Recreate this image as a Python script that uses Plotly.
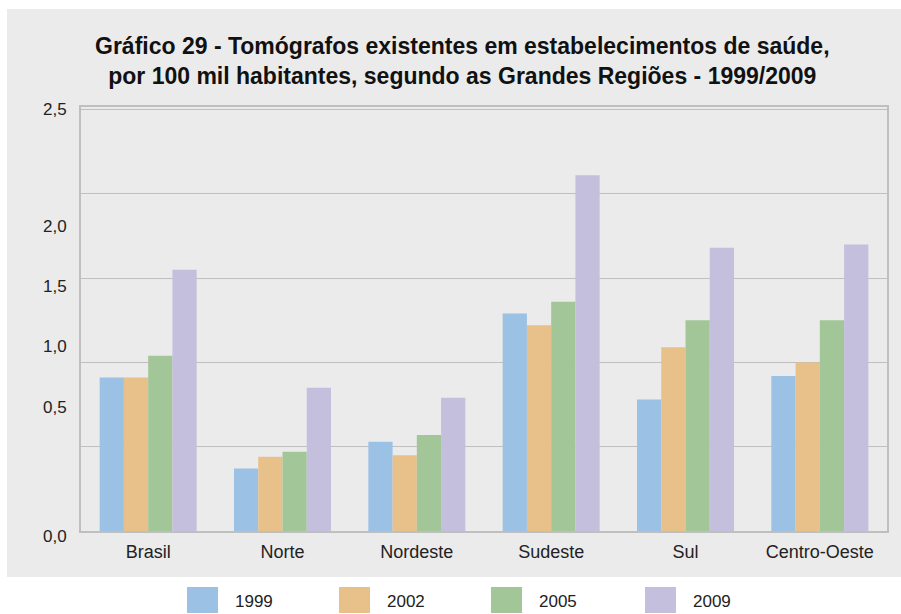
import plotly.graph_objects as go

# Tomógrafos por 100 mil habitantes, por Grande Região
regioes = ["Brasil", "Norte", "Nordeste", "Sudeste", "Sul", "Centro-Oeste"]
anos = ["1999", "2002", "2005", "2009"]
v1999 = [0.91, 0.37, 0.53, 1.29, 0.78, 0.92]
v2002 = [0.91, 0.44, 0.45, 1.22, 1.09, 1.00]
v2005 = [1.04, 0.47, 0.57, 1.36, 1.25, 1.25]
v2009 = [1.55, 0.85, 0.79, 2.11, 1.68, 1.70]
valores = [v1999, v2002, v2005, v2009]
cores = ["#9BC1E5", "#E8C08A", "#A2C697", "#C4BFDC"]

# y-axis label texts and where they sit along the axis
rotulos_y = ["0,0", "0,5", "1,0", "1,5", "2,0", "2,5"]
pos_rotulos_y = [-0.034, 0.731, 1.095, 1.452, 1.808, 2.50]

titulo = ("Gráfico 29 - Tomógrafos existentes em estabelecimentos de saúde,<br>"
          "por 100 mil habitantes, segundo as Grandes Regiões - 1999/2009")

W, H = 901, 614
L, R, T, B = 81, 14, 107, 83
PW, PH = W - L - R, H - T - B
Y_MAX = 2.515


def px_x(x):
    return (x - L) / PW


def px_y(y):
    return (H - B - y) / PH


FONT = "Liberation Sans, Arial, sans-serif"

fig = go.Figure()
for ano, vals, cor in zip(anos, valores, cores):
    fig.add_trace(go.Bar(x=regioes, y=vals, name=ano, marker=dict(color=cor, line=dict(width=0)),
                         showlegend=False))

shapes = [
    # grey panel behind the chart
    dict(type="rect", xref="paper", yref="paper", layer="below",
         x0=px_x(7), x1=px_x(W + 5), y0=px_y(577), y1=px_y(9),
         fillcolor="#EBEBEB", line=dict(width=0)),
]
annotations = [
    dict(text=f"<b>{titulo}</b>", xref="paper", yref="paper", x=px_x(462), y=px_y(61),
         xanchor="center", yanchor="middle", showarrow=False, align="center",
         font=dict(family=FONT, size=23, color="#111111")),
]
# value labels on the y side, placed in paper units derived from the axis range
for txt, pos in zip(rotulos_y, pos_rotulos_y):
    annotations.append(dict(text=txt, xref="paper", yref="paper", x=px_x(69), y=pos / Y_MAX,
                            xanchor="right", yanchor="middle", showarrow=False,
                            font=dict(family=FONT, size=17, color="#222222")))

# legend: large swatches with year labels
leg_sq = [187, 339, 491, 645]
for ano, cor, x0 in zip(anos, cores, leg_sq):
    shapes.append(dict(type="rect", xref="paper", yref="paper",
                       x0=px_x(x0), x1=px_x(x0 + 31), y0=px_y(613), y1=px_y(587),
                       fillcolor=cor, line=dict(width=0)))
    annotations.append(dict(text=ano, xref="paper", yref="paper", x=px_x(x0 + 46), y=px_y(601),
                            xanchor="left", yanchor="middle", showarrow=False,
                            font=dict(family=FONT, size=17, color="#222222")))

fig.update_layout(
    width=W, height=H,
    margin=dict(l=L, r=R, t=T, b=B, pad=0),
    paper_bgcolor="white", plot_bgcolor="white",
    barmode="group", bargap=0.278, bargroupgap=0,
    shapes=shapes, annotations=annotations,
    xaxis=dict(showline=True, mirror=True, linecolor="#BFBFBF", linewidth=1.5,
               ticks="", showgrid=False, ticklabelstandoff=4,
               tickfont=dict(family=FONT, size=18, color="#222222")),
    yaxis=dict(range=[0, Y_MAX], dtick=0.5, showticklabels=False, ticks="",
               showgrid=True, gridcolor="#BFBFBF", gridwidth=1.3, zeroline=False,
               showline=True, mirror=True, linecolor="#BFBFBF", linewidth=1.5),
    showlegend=False,
)

fig.write_html("out.html")
